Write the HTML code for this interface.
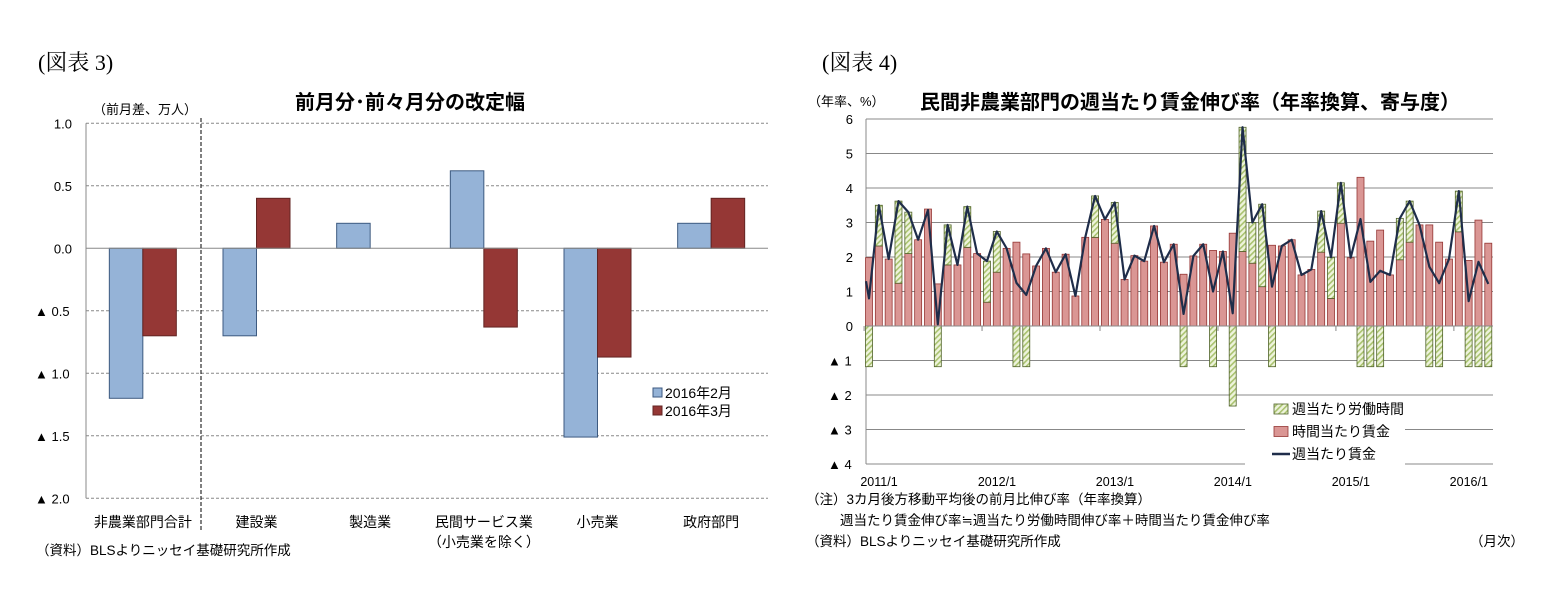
<!DOCTYPE html>
<html><head><meta charset="utf-8">
<style>
html,body{margin:0;padding:0;background:#fff;}
svg{display:block;font-family:"Liberation Sans","Noto Sans CJK JP",sans-serif;}
.s{font-family:"Liberation Serif","Noto Serif CJK SC",serif;}
</style></head>
<body>
<svg id="c" width="1568" height="597" viewBox="0 0 1568 597" xmlns="http://www.w3.org/2000/svg">
<defs>
<pattern id="hatch" patternUnits="userSpaceOnUse" width="4" height="4" patternTransform="rotate(45)">
<rect width="4" height="4" fill="#eef4dc"/><rect width="1.6" height="4" fill="#a9c26f"/>
</pattern>
</defs>
<text class="s" x="38" y="70" font-size="22">(図表 3)</text>
<text x="410" y="109" font-size="20" font-weight="bold" text-anchor="middle">前月分･前々月分の改定幅</text>
<text x="93" y="114" font-size="13">（前月差、万人）</text>
<text x="36" y="555" font-size="13.5">（資料）BLSよりニッセイ基礎研究所作成</text>
<text class="s" x="822" y="70" font-size="22">(図表 4)</text>
<text x="1190" y="109" font-size="20" font-weight="bold" text-anchor="middle">民間非農業部門の週当たり賃金伸び率（年率換算、寄与度）</text>
<text x="808" y="106" font-size="13">（年率、%）</text>
<text x="806" y="504" font-size="13.5">（注）3カ月後方移動平均後の前月比伸び率（年率換算）</text>
<text x="840" y="525" font-size="13.5">週当たり賃金伸び率≒週当たり労働時間伸び率＋時間当たり賃金伸び率</text>
<text x="806" y="546" font-size="13.5">（資料）BLSよりニッセイ基礎研究所作成</text>
<text x="1470" y="546" font-size="13.5">（月次）</text>
<g id="left"></g>
<g id="right"></g>
</svg>
<script>
// ---- Left chart data ----
const leftCategories = ["非農業部門合計","建設業","製造業","民間サービス業","小売業","政府部門"];
const febValues = [-1.2, -0.7, 0.2, 0.62, -1.51, 0.2];
const marValues = [-0.7, 0.4, 0, -0.63, -0.87, 0.4];
const leftTicks = [1.0, 0.5, 0.0, -0.5, -1.0, -1.5, -2.0];
const leftTickLabels = ["1.0","0.5","0.0","▲ 0.5","▲ 1.0","▲ 1.5","▲ 2.0"];
// ---- Right chart data ----
const monthCount = 64;
const hourlyWage = [1.98,2.32,1.94,1.24,2.1,2.5,3.39,1.22,1.77,1.77,2.28,2.1,0.69,1.56,2.25,2.43,2.09,1.74,2.25,1.56,2.08,0.87,2.57,2.57,3.09,2.4,1.35,2.04,1.88,2.9,1.85,2.37,1.5,2.03,2.37,2.19,2.16,2.69,2.16,1.82,1.14,2.34,2.32,2.5,1.48,1.64,2.14,0.8,2.98,1.98,4.31,2.46,2.78,1.48,1.92,2.43,2.93,2.93,2.43,1.94,2.73,1.9,3.07,2.4];
const hoursWorked = [-1.18,1.18,0,2.38,1.2,0,0,-1.18,1.16,0,1.18,0,1.19,1.18,0,-1.18,-1.18,0,0,0,0,0,0,1.2,0,1.18,0,0,0,0,0,0,-1.18,0,0,-1.18,0,-2.32,3.6,1.18,2.39,-1.18,0,0,0,0,1.19,1.19,1.17,0,-1.18,-1.18,-1.18,0,1.2,1.19,0,-1.18,-1.18,0,1.18,-1.18,-1.18,-1.18];
const weeklyWage = [0.8,3.5,1.94,3.62,3.3,2.5,3.36,0.05,2.93,1.77,3.46,2.1,1.88,2.74,2.25,1.25,0.9,1.74,2.25,1.56,2.08,0.87,2.57,3.77,3.09,3.58,1.35,2.04,1.88,2.9,1.85,2.37,0.35,2.03,2.37,1.0,2.16,0.37,5.76,3.0,3.53,1.14,2.32,2.5,1.48,1.64,3.33,1.99,4.15,1.98,3.1,1.28,1.6,1.48,3.12,3.62,2.93,1.72,1.24,1.94,3.91,0.72,1.86,1.22];
const rightTicks = [6,5,4,3,2,1,0,-1,-2,-3,-4];
const rightTickLabels = ["6","5","4","3","2","1","0","▲ 1","▲ 2","▲ 3","▲ 4"];
const yearLabels = ["2011/1","2012/1","2013/1","2014/1","2015/1","2016/1"];
const yearIndex = [0,12,24,36,48,60];

const NS="http://www.w3.org/2000/svg";
function mk(parent,tag,attrs){const e=document.createElementNS(NS,tag);for(const k in attrs)e.setAttribute(k,attrs[k]);parent.appendChild(e);return e;}

// Left chart
(function(){
  const g=document.getElementById('left');
  const x0=86,x1=768,yTop=123.3,yZero=248.3,unit=125;
  const y=v=>yZero-v*unit;
  const cw=(x1-x0)/leftCategories.length;
  leftTicks.forEach((t,i)=>{
    if(t!==0){const l=mk(g,'line',{x1:x0,x2:x1,y1:y(t),y2:y(t),stroke:'#888','stroke-dasharray':'3,2','stroke-width':1});
    
    }
    const tx=mk(g,'text',{x:t<0?35:72,y:y(t)+5,'font-size':13,'text-anchor':t<0?'start':'end'});
    tx.textContent=leftTickLabels[i];
    
    
  });
  const ax=mk(g,'line',{x1:x0,x2:x0,y1:yTop,y2:y(-2),stroke:'#888'});
  
  
  const bw=33.5;
  leftCategories.forEach((c,i)=>{
    const cx=x0+cw*(i+0.5);
    [[febValues[i],'#95b3d7','#3d5a80',cx-bw],[marValues[i],'#953735','#632523',cx]].forEach((s,j)=>{
      if(s[0]===0)return;
      const r=mk(g,'rect',{x:s[3],width:bw,y:Math.min(y(0),y(s[0])),height:Math.abs(s[0])*unit,fill:s[1],stroke:s[2],'stroke-width':1});
      
      
    });
    const lbl=mk(g,'text',{x:cx,y:527,'font-size':14,'text-anchor':'middle'});
    lbl.textContent=c;
    
    
  });
  const sub=mk(g,'text',{x:x0+cw*3.5,y:547,'font-size':14,'text-anchor':'middle'});
  sub.textContent='（小売業を除く）';
  
  
  const z=mk(g,'line',{x1:x0,x2:x1,y1:yZero,y2:yZero,stroke:'#888'});
  
  
  const dv=mk(g,'line',{x1:201,x2:201,y1:118,y2:530,stroke:'#000','stroke-dasharray':'4,2'});
  
  
  // legend
  const lg=mk(g,'g',{});
  
  
  [['2016年2月','#95b3d7','#3d5a80'],['2016年3月','#953735','#632523']].forEach((e,i)=>{
    const r=mk(lg,'rect',{x:653,y:388+i*18,width:9,height:9,fill:e[1],stroke:e[2]});
    
    
    const t=mk(lg,'text',{x:665,y:398+i*18,'font-size':14});
    t.textContent=e[0];
    
    
  });
})();

// Right chart
(function(){
  const g=document.getElementById('right');
  const x0=866,x1=1493,yZero=326,unit=34.5;
  const y=v=>yZero-v*unit;
  const step=9.83,first=869;
  const xc=i=>first+step*i;
  rightTicks.forEach((t,i)=>{
    const l=mk(g,'line',{x1:x0,x2:x1,y1:y(t),y2:y(t),stroke:'#888','stroke-width':1});
    
    
    const tx=mk(g,'text',{x:t<0?828:853,y:y(t)+5,'font-size':13,'text-anchor':t<0?'start':'end'});
    tx.textContent=rightTickLabels[i];
    
    
  });
  const ax=mk(g,'line',{x1:x0,x2:x0,y1:y(6),y2:y(-4),stroke:'#888'});
  
  
  const bw=7;
  for(let i=0;i<monthCount;i++){
    const h=hourlyWage[i];
    const r=mk(g,'rect',{x:xc(i)-bw/2,width:bw,y:y(h),height:h*unit,fill:'#da9694',stroke:'#953735','stroke-width':0.8});
    
    
    const w=hoursWorked[i];
    if(w!==0){
      const base=w>0?h:0;
      const gr=mk(g,'rect',{x:xc(i)-bw/2,width:bw,y:w>0?y(base+w):y(0),height:Math.abs(w)*unit,fill:'url(#hatch)',stroke:'#4f6228','stroke-width':0.8});
      
      
    }
  }
  const z=mk(g,'line',{x1:x0,x2:x1,y1:yZero,y2:yZero,stroke:'#888'});
  
  
  yearIndex.forEach((m,i)=>{
    const tk=mk(g,'line',{x1:xc(m)-step/2+118/12*0,x2:xc(m)-step/2,y1:yZero,y2:yZero+5,stroke:'#888'});
    
    
    const t=mk(g,'text',{x:xc(m)+10,y:486,'font-size':12.5,'text-anchor':'middle'});
    t.textContent=yearLabels[i];
    
    
  });
  const pts=weeklyWage.map((v,i)=>xc(i)+','+y(v)).join(' ');
  const pl=mk(g,'polyline',{points:(x0)+','+y(1.3)+' '+pts,fill:'none',stroke:'#1f2d4a','stroke-width':2.2,'stroke-linejoin':'round'});
  
  
  // legend
  const lg=mk(g,'g',{});
  
  
  const bg=mk(lg,'rect',{x:1245,y:396,width:160,height:70,fill:'#fff'});
  
  
  const items=[['週当たり労働時間','url(#hatch)','#4f6228'],['時間当たり賃金','#da9694','#953735'],['週当たり賃金',null,null]];
  items.forEach((e,i)=>{
    const yy=404+i*22.5;
    if(e[1]){
      const r=mk(lg,'rect',{x:1274,y:yy,width:14,height:10,fill:e[1],stroke:e[2],'stroke-width':0.8});
      
      
    } else {
      const l=mk(lg,'line',{x1:1272,x2:1290,y1:yy+5,y2:yy+5,stroke:'#1f2d4a','stroke-width':2.5});
      
      
    }
    const t=mk(lg,'text',{x:1292,y:yy+10,'font-size':14});
    t.textContent=e[0];
    
    
  });
})();
</script>
</body></html>
